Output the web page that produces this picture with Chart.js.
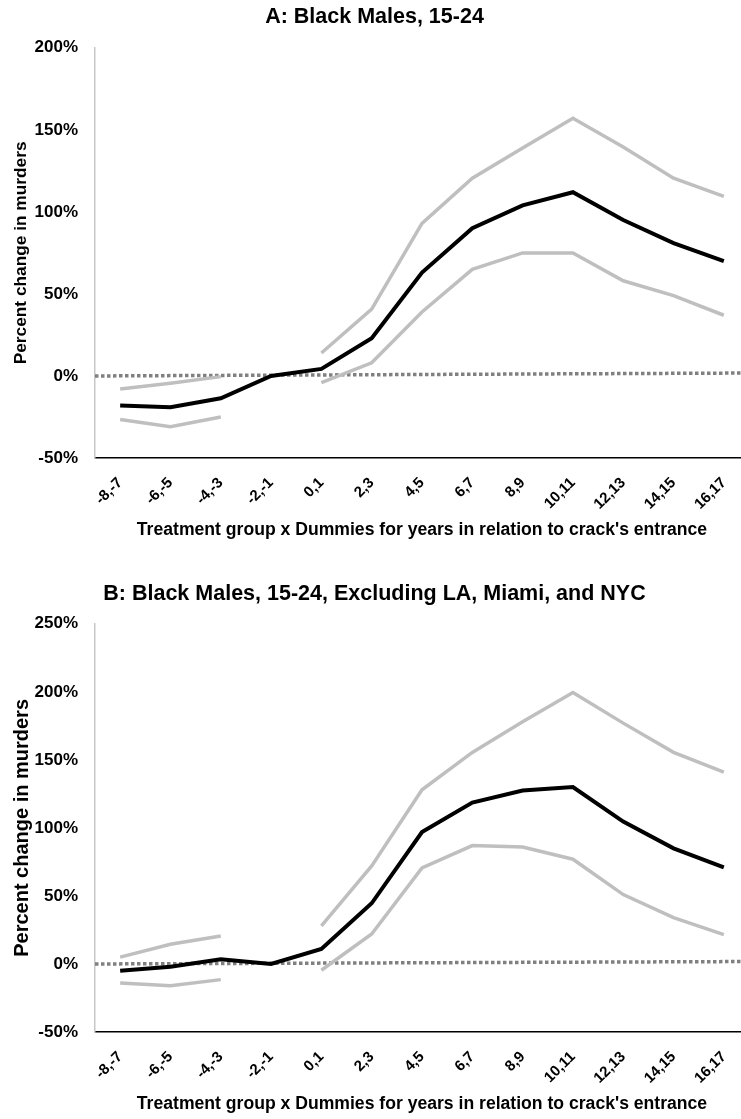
<!DOCTYPE html>
<html>
<head>
<meta charset="utf-8">
<script src="https://cdn.jsdelivr.net/npm/chart.js@4.4.1/dist/chart.umd.min.js"></script>
<style>
  html, body { margin: 0; padding: 0; background: #fff; overflow: hidden; width: 741px; height: 1119px; }
  .panel { position: absolute; left: 0; width: 756px; }
  #panelA { top: 0; height: 545px; }
  #panelB { top: 560px; height: 559px; }
</style>
</head>
<body>
<div class="panel" id="panelA"><canvas id="chartA"></canvas></div>
<div class="panel" id="panelB"><canvas id="chartB"></canvas></div>
<script>
// years relative to crack's entrance
const periods = ['-8,-7', '-6,-5', '-4,-3', '-2,-1', '0,1', '2,3', '4,5', '6,7', '8,9', '10,11', '12,13', '14,15', '16,17'];

// Panel A: Black males 15-24
const estA   = [-18, -19, -13.6, 0, 4.3, 23, 63, 90, 104, 112, 95, 81, 70];
const upperA = [-8, -4.5, -0.4, null, 14, 40.7, 93, 120.5, 139, 157, 139.5, 120.5, 109.5];
const lowerA = [-26.5, -31, -25, null, -4, 8, 39, 65, 75, 75, 58, 49, 37];
const zeroA  = [0, 1.8];

// Panel B: excluding LA, Miami and NYC
const estB   = [-5, -2, 3.5, 0, 11, 44.6, 97, 118.6, 127.5, 130, 104.6, 85, 71];
const upperB = [5, 14.5, 20.6, null, 28, 72, 128, 155.5, 178, 199.5, 177, 155.5, 141];
const lowerB = [-14, -16, -11.5, null, -4.6, 22, 70.6, 87, 86, 77, 51, 34, 21.5];
const zeroB  = [0, 1.8];

const FONT = "'Liberation Sans', Arial, Helvetica, sans-serif";

function makePanel(id, opts) {
  const ctx = document.getElementById(id);
  return new Chart(ctx, {
    type: 'line',
    data: {
      labels: periods,
      datasets: [
        { data: opts.est, borderColor: '#000', borderWidth: 4 },
        { data: opts.upper, borderColor: '#bfbfbf', borderWidth: 3.5 },
        { data: opts.lower, borderColor: '#bfbfbf', borderWidth: 3.5 },
        {
          xAxisID: 'x2',
          data: [{ x: 0, y: opts.zero[0] }, { x: 1, y: opts.zero[1] }],
          borderColor: '#808080', borderWidth: 3.5, borderDash: [3.5, 2.5]
        }
      ]
    },
    options: {
      responsive: true,
      maintainAspectRatio: false,
      animation: false,
      spanGaps: false,
      elements: { point: { radius: 0 }, line: { tension: 0, borderCapStyle: 'butt' } },
      layout: { padding: { top: 0, right: 7, left: 0, bottom: 0 } },
      plugins: {
        legend: { display: false },
        tooltip: { enabled: false },
        title: {
          display: true,
          text: opts.title,
          color: '#000',
          font: { family: FONT, size: 21.5, weight: 'bold' },
          padding: { top: opts.titleTop, bottom: opts.titleBottom }
        }
      },
      scales: {
        x: {
          offset: true,
          grid: { display: false, drawTicks: false },
          border: { color: '#000', width: 1.5 },
          ticks: {
            color: '#000', padding: 16,
            minRotation: 45, maxRotation: 45,
            font: { family: FONT, size: 15, weight: 'bold' }
          },
          title: {
            display: true,
            text: "Treatment group x Dummies for years in relation to crack's entrance",
            color: '#000',
            font: { family: FONT, size: 17.6, weight: 'bold' },
            padding: { top: 4, bottom: 4 }
          },
          afterFit: s => { s.height = opts.xHeight; }
        },
        x2: { type: 'linear', min: 0, max: 1, display: false },
        y: {
          min: opts.yMin, max: opts.yMax,
          grid: { display: false, drawTicks: false },
          border: { color: '#c8c8c8', width: 1.5 },
          ticks: {
            stepSize: 50, padding: 17, color: '#000',
            font: { family: FONT, size: 17, weight: 'bold' },
            callback: v => v + '%'
          },
          title: {
            display: true,
            text: 'Percent change in murders',
            color: '#000',
            font: { family: FONT, size: opts.yTitleSize, weight: 'bold' },
            padding: { top: opts.yTitlePad, bottom: 0 }
          },
          afterFit: s => { s.width = 95; }
        }
      }
    }
  });
}

makePanel('chartA', {
  title: 'A: Black Males, 15-24',
  est: estA, upper: upperA, lower: lowerA, zero: zeroA,
  yMin: -50, yMax: 200, yTitleSize: 17.3, yTitlePad: 11,
  titleTop: 4, titleBottom: 18, xHeight: 87
});

makePanel('chartB', {
  title: 'B: Black Males, 15-24, Excluding LA, Miami, and NYC',
  est: estB, upper: upperB, lower: lowerB, zero: zeroB,
  yMin: -50, yMax: 250, yTitleSize: 20, yTitlePad: 10,
  titleTop: 21, titleBottom: 17, xHeight: 87
});
</script>
</body>
</html>
